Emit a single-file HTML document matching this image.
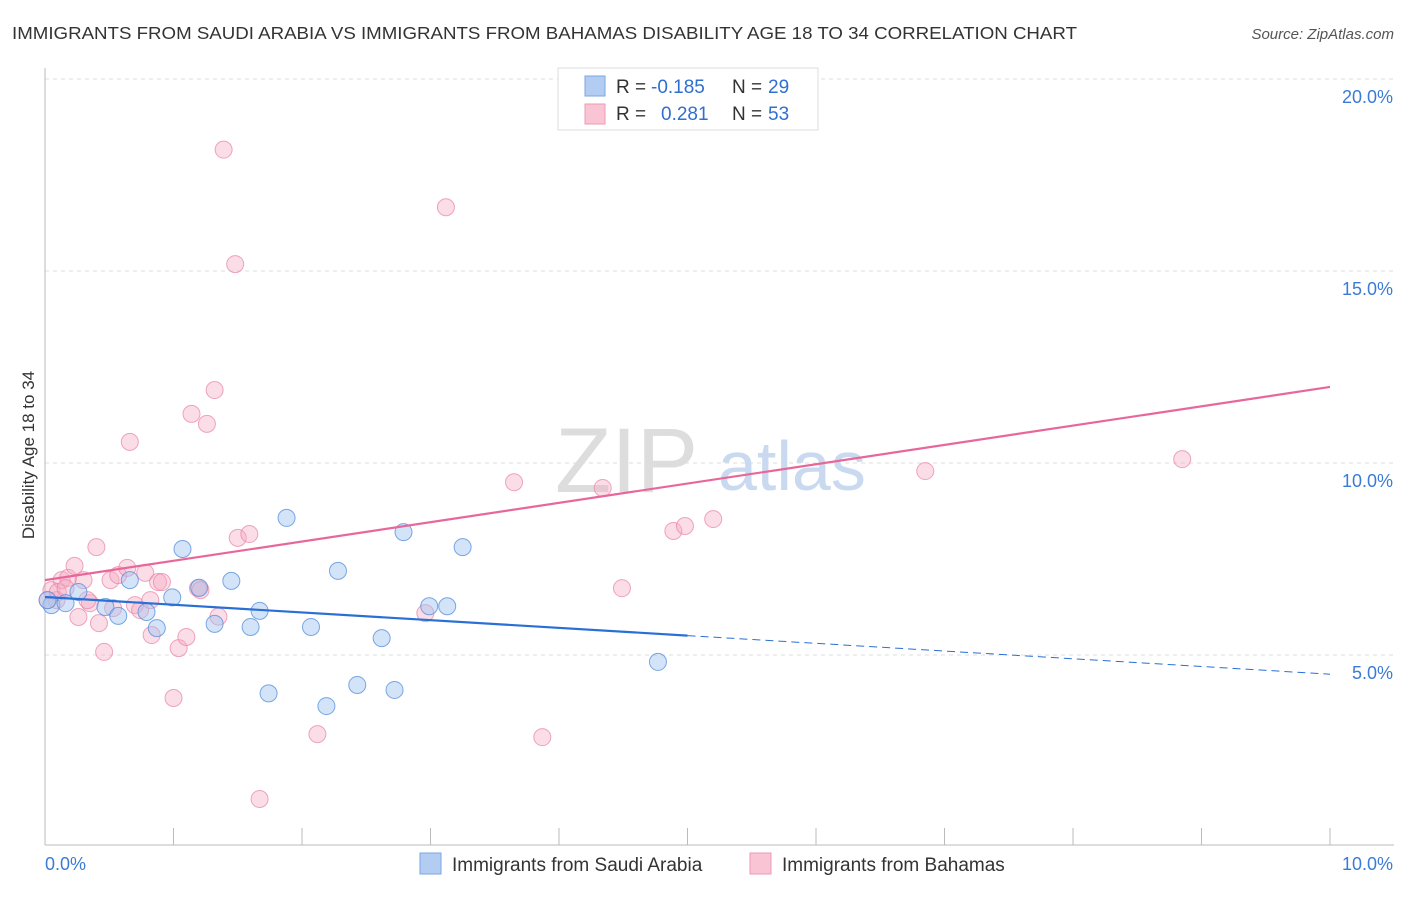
<!DOCTYPE html>
<html><head><meta charset="utf-8"><style>
body{margin:0;background:#fff;font-family:"Liberation Sans",sans-serif;}
svg text{font-family:"Liberation Sans",sans-serif;}
</style></head><body>
<svg id="chart" width="1406" height="892">
<text x="12" y="39" font-size="17.5" fill="#333" textLength="1065" lengthAdjust="spacingAndGlyphs">IMMIGRANTS FROM SAUDI ARABIA VS IMMIGRANTS FROM BAHAMAS DISABILITY AGE 18 TO 34 CORRELATION CHART</text>
<text x="1394" y="39" font-size="15" fill="#555" text-anchor="end" font-style="italic">Source: ZipAtlas.com</text>
<text x="34" y="455" font-size="17" fill="#333" text-anchor="middle" transform="rotate(-90 34 455)">Disability Age 18 to 34</text>
<g id="grid"></g>
<text x="555" y="492" font-size="92" fill="#ddd" font-family="Liberation Serif">ZIP</text>
<text x="718" y="490" font-size="70" fill="#c9d9ef">atlas</text>
<g id="pts"></g>
<g id="lines"></g>
<g>
<rect x="558" y="68" width="260" height="62" fill="#fff" stroke="#ddd"/>
<rect x="585" y="76" width="20" height="20" fill="#b3cdf2" stroke="#7aa6e0"/>
<rect x="585" y="104" width="20" height="20" fill="#f9c4d4" stroke="#ee9ab5"/>
<text x="616" y="93" font-size="19" fill="#333">R =</text>
<text x="651" y="93" font-size="19" fill="#2f6fd0">-0.185</text>
<text x="732" y="93" font-size="19" fill="#333">N =</text>
<text x="768" y="93" font-size="19" fill="#2f6fd0">29</text>
<text x="616" y="120" font-size="19" fill="#333">R =</text>
<text x="661" y="120" font-size="19" fill="#2f6fd0">0.281</text>
<text x="732" y="120" font-size="19" fill="#333">N =</text>
<text x="768" y="120" font-size="19" fill="#2f6fd0">53</text>
</g>
<g>
<rect x="420" y="853" width="21" height="21" fill="#b3cdf2" stroke="#7aa6e0"/>
<text x="452" y="871" font-size="19" fill="#333">Immigrants from Saudi Arabia</text>
<rect x="750" y="853" width="21" height="21" fill="#f9c4d4" stroke="#ee9ab5"/>
<text x="782" y="871" font-size="19" fill="#333">Immigrants from Bahamas</text>
</g>
</svg>
<script>
const ns="http://www.w3.org/2000/svg";
const yTicks=[5,10,15,20];
const xLabels=["0.0%","10.0%"];
const blueX=[0.05,0.16,0.26,0.47,0.57,0.66,0.79,0.87,0.99,1.07,1.2,1.32,1.45,1.6,1.67,1.74,1.88,2.07,2.19,2.28,2.43,2.62,2.72,2.79,2.99,3.13,3.25,4.77,0.02];
const blueY=[6.3,6.35,6.64,6.25,6.02,6.95,6.12,5.7,6.5,7.76,6.75,5.81,6.93,5.73,6.15,4.0,8.57,5.73,3.67,7.19,4.22,5.44,4.09,8.2,6.27,6.27,7.81,4.82,6.43];
const pinkX=[0.05,0.09,0.13,0.18,0.23,0.26,0.3,0.35,0.4,0.42,0.46,0.51,0.57,0.64,0.66,0.7,0.74,0.78,0.83,0.88,0.91,1.0,1.04,1.1,1.14,1.19,1.26,1.32,1.35,1.39,1.48,1.5,1.59,1.67,2.12,2.96,3.12,3.65,3.87,4.34,4.49,4.89,4.98,5.2,6.85,8.85,0.02,0.1,0.16,0.33,0.53,0.82,1.21];
const pinkY=[6.69,6.43,6.95,7.01,7.32,5.99,6.95,6.35,7.81,5.83,5.08,6.95,7.08,7.27,10.55,6.3,6.17,7.14,5.52,6.9,6.9,3.88,5.18,5.47,11.28,6.74,11.02,11.9,6.0,18.16,15.18,8.05,8.15,1.25,2.94,6.09,16.66,9.5,2.86,9.35,6.74,8.23,8.36,8.54,9.79,10.1,6.43,6.64,6.74,6.43,6.22,6.43,6.69];
const pinkTrend=[6.95,11.98];
const blueTrend=[6.51,4.5];
const X=v=>45+v*128.5, Y=v=>847-v*38.4;
function mk(tag,attrs,parent){const e=document.createElementNS(ns,tag);for(const k in attrs)e.setAttribute(k,attrs[k]);parent.appendChild(e);return e;}
const grid=document.getElementById('grid');
yTicks.forEach(t=>{
 const l=mk('line',{x1:45,x2:1394,y1:Y(t),y2:Y(t),stroke:'#ddd','stroke-dasharray':'4 4'},grid);
 
 
 const tx=mk('text',{x:1393,y:Y(t)+24,'font-size':18,fill:'#3b7bd8','text-anchor':'end'},grid);
 tx.textContent=t.toFixed(1)+'%';
 
 
});
const ax=mk('line',{x1:45,x2:45,y1:68,y2:845,stroke:'#bbb'},grid);


const bx=mk('line',{x1:45,x2:1394,y1:845,y2:845,stroke:'#bbb'},grid);


for(let i=1;i<=10;i++){const t=mk('line',{x1:X(i),x2:X(i),y1:828,y2:845,stroke:'#bbb'},grid);
 
 }
const xl0=mk('text',{x:45,y:870,'font-size':18,fill:'#3b7bd8'},grid);xl0.textContent=xLabels[0];


const xl1=mk('text',{x:1393,y:870,'font-size':18,fill:'#3b7bd8','text-anchor':'end'},grid);xl1.textContent=xLabels[1];


const pts=document.getElementById('pts');
pinkX.forEach((x,i)=>{const c=mk('circle',{cx:X(x),cy:Y(pinkY[i]),r:8.5,fill:'rgba(246,170,195,0.4)',stroke:'rgba(232,130,165,0.7)','stroke-width':1},pts);
 
 });
blueX.forEach((x,i)=>{const c=mk('circle',{cx:X(x),cy:Y(blueY[i]),r:8.5,fill:'rgba(160,195,240,0.45)',stroke:'rgba(80,140,220,0.75)','stroke-width':1},pts);
 
 });
const lines=document.getElementById('lines');
const pl=mk('line',{x1:X(0),y1:Y(pinkTrend[0]),x2:X(10),y2:Y(pinkTrend[1]),stroke:'#e8679a','stroke-width':2.2},lines);


const bm=blueTrend[0]+(blueTrend[1]-blueTrend[0])*0.5;
const bl=mk('line',{x1:X(0),y1:Y(blueTrend[0]),x2:X(5),y2:Y(bm),stroke:'#2a6fd6','stroke-width':2.2},lines);


const bd=mk('line',{x1:X(5),y1:Y(bm),x2:X(10),y2:Y(blueTrend[1]),stroke:'#2a6fd6','stroke-width':1,'stroke-dasharray':'8 5'},lines);


</script>
</body></html>
